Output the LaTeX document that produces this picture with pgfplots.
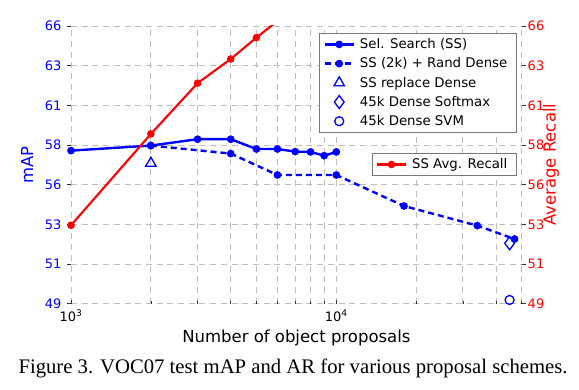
\documentclass[border=0pt]{standalone}
\usepackage{fontspec}
\setmainfont{DejaVu Sans}
\newfontfamily\capfont{Liberation Serif}
\usepackage{pgfplots}
\pgfplotsset{compat=1.18}
\definecolor{gridgray}{RGB}{190,190,190}
\definecolor{legframe}{RGB}{120,120,120}
\begin{document}
\begin{tikzpicture}
\useasboundingbox (-71pt,-86.3pt) rectangle (508pt,303.7pt);
\begin{axis}[
  at={(0pt,0pt)}, anchor=south west,
  scale only axis, width=450.7pt, height=277.7pt,
  xmode=log, xmin=1000, xmax=50000,
  ymin=49, ymax=66,
  ytick={49,51.428571,53.857143,56.285714,58.714286,61.142857,63.571429,66},
  yticklabels={49,51,53,56,58,61,63,66},
  axis line style={draw=none},
  tick style={black!80, line width=0.7pt},
  major tick length=4pt, minor tick length=2.5pt,
  ticklabel style={font=\fontsize{13}{15}\selectfont},
  label style={font=\fontsize{16.5}{18}\selectfont},
  legend cell align=left,
  legend image code/.code={\draw[mark repeat=2,mark phase=2,#1] plot coordinates {(0pt,0pt)(14.5pt,0pt)(29pt,0pt)};},
  xtick={1000,10000}, xticklabels={10\textsuperscript{3},10\textsuperscript{4}},
  minor xtick={2000,3000,4000,5000,6000,7000,8000,9000,20000,30000,40000,50000},
  grid=both,
  grid style={gridgray, line width=0.8pt, dash pattern=on 6pt off 4.7pt},
  minor grid style={gridgray, line width=0.8pt, dash pattern=on 6pt off 4.7pt},
  tick pos=left,
  xtick align=inside, ytick align=outside,
  yticklabel style={blue, xshift=-2pt},
  xticklabel style={yshift=-3pt},
  ylabel={mAP}, ylabel style={blue, yshift=5pt},
  xlabel={Number of object proposals}, xlabel style={yshift=-2pt},
  legend style={at={(0.989,0.974)}, anchor=north east, draw=legframe, line width=0.8pt, fill=white,
    font=\fontsize{13.3}{15}\selectfont, row sep=3.6pt, inner xsep=4pt, inner ysep=3pt,
    nodes={inner xsep=5pt}},
]
\addplot[blue, line width=2.4pt, mark=*, mark size=2.6pt] coordinates {
 (1000,58.37)(2000,58.68)(3000,59.07)(4000,59.07)(5000,58.47)(6000,58.47)(7000,58.31)(8000,58.29)(9000,58.06)(10000,58.29)};
\addlegendentry{Sel. Search (SS)}
\addplot[blue, line width=2.4pt, dash pattern=on 6pt off 4pt, mark=*, mark size=2.6pt, mark options={solid}] coordinates {
 (2000,58.68)(4000,58.19)(6000,56.88)(10000,56.88)(18000,54.98)(34000,53.78)(47000,52.96)};
\addlegendentry{SS (2k) + Rand Dense}
\addplot[blue, only marks, mark=triangle, mark size=6pt, line width=1.3pt] coordinates {(2000,57.6)};
\addlegendentry{SS replace Dense}
\addplot[blue, only marks, mark=diamond, mark size=6.5pt, line width=1.3pt] coordinates {(45000,52.7)};
\addlegendentry{45k Dense Softmax}
\addplot[blue, only marks, mark=o, mark size=4.5pt, line width=1.3pt] coordinates {(45000,49.23)};
\addlegendentry{45k Dense SVM}
\end{axis}
\begin{axis}[
  at={(0pt,0pt)}, anchor=south west,
  scale only axis, width=450.7pt, height=277.7pt,
  xmode=log, xmin=1000, xmax=50000,
  ymin=49, ymax=66,
  ytick={49,51.428571,53.857143,56.285714,58.714286,61.142857,63.571429,66},
  yticklabels={49,51,53,56,58,61,63,66},
  axis line style={draw=none},
  tick style={black!80, line width=0.7pt},
  major tick length=4pt,
  ticklabel style={font=\fontsize{13}{15}\selectfont},
  label style={font=\fontsize{16.5}{18}\selectfont},
  legend cell align=left,
  legend image code/.code={\draw[mark repeat=2,mark phase=2,#1] plot coordinates {(0pt,0pt)(14.5pt,0pt)(29pt,0pt)};},
  hide x axis,
  ytick pos=right, yticklabel pos=right, ytick align=outside,
  yticklabel style={red, xshift=-1.5pt},
  ylabel={Average Recall}, ylabel style={red, yshift=8pt},
  legend style={at={(0.989,0.5416)}, anchor=north east, draw=legframe, line width=0.8pt, fill=white,
    font=\fontsize{13.3}{15}\selectfont, inner xsep=4pt, inner ysep=3pt, nodes={inner xsep=5pt}},
]
\addplot[red, line width=2.1pt, mark=*, mark size=2.7pt] coordinates {
 (1000,53.80)(2000,59.39)(3000,62.50)(4000,63.98)(5000,65.29)};
\addlegendentry{SS Avg. Recall}
\addplot[red, line width=2.1pt, forget plot] coordinates {(5000,65.29)(6000,66.3)};
\end{axis}
\node[anchor=base west, font=\capfont\fontsize{20.7}{22}\selectfont] at (-56pt,-70.3pt) {Figure 3. VOC07 test mAP and AR for various proposal schemes.};
\end{tikzpicture}
\end{document}
